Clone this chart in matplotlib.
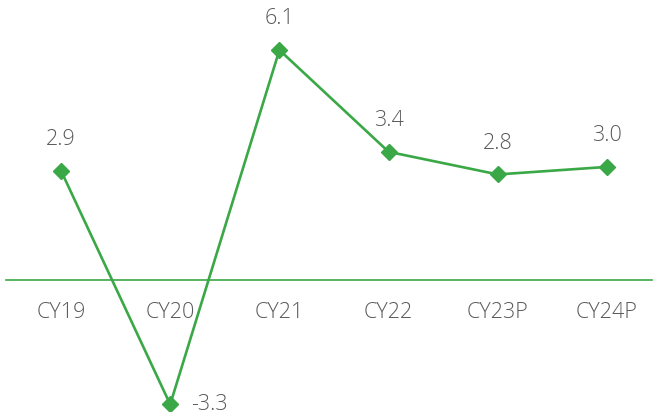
import matplotlib
matplotlib.use("Agg")
import matplotlib.pyplot as plt

categories = ["CY19", "CY20", "CY21", "CY22", "CY23P", "CY24P"]
values = [2.9, -3.3, 6.1, 3.4, 2.8, 3.0]
labels = ["2.9", "-3.3", "6.1", "3.4", "2.8", "3.0"]

green = "#3aa846"
grey = "#595959"
plt.rcParams['font.family'] = ['Open Sans', 'DejaVu Sans']

fig = plt.figure(figsize=(6.54, 4.12), dpi=100)
ax = fig.add_axes([0, 0, 1, 1])
x = list(range(len(categories)))
ax.plot(x, values, color=green, lw=1.9, marker='D', markersize=8, zorder=3)
ax.axhline(0, xmin=6/654, xmax=652/654, color=green, lw=1.2, zorder=2)

ax.set_xlim(-61/109.2, (654-61)/109.2)
ax.set_ylim(-132/37.7, 280/37.7)
ax.axis('off')

fs = 15.5
for xi, v, lab in zip(x, values, labels):
    if v < 0:
        ax.annotate(lab, (xi, v), xytext=(15, 0), textcoords='offset points',
                    ha='left', va='center', fontsize=fs, color=grey, fontweight='light')
    else:
        ax.annotate(lab, (xi, v), xytext=(0, 22.5), textcoords='offset points',
                    ha='center', va='center', fontsize=fs, color=grey, fontweight='light')

for xi, c in zip(x, categories):
    ax.annotate(c, (xi, 0), xytext=(0, -23.5), textcoords='offset points',
                ha='center', va='center', fontsize=fs, color=grey, fontweight='light')

fig.savefig("out.png", dpi=100)
